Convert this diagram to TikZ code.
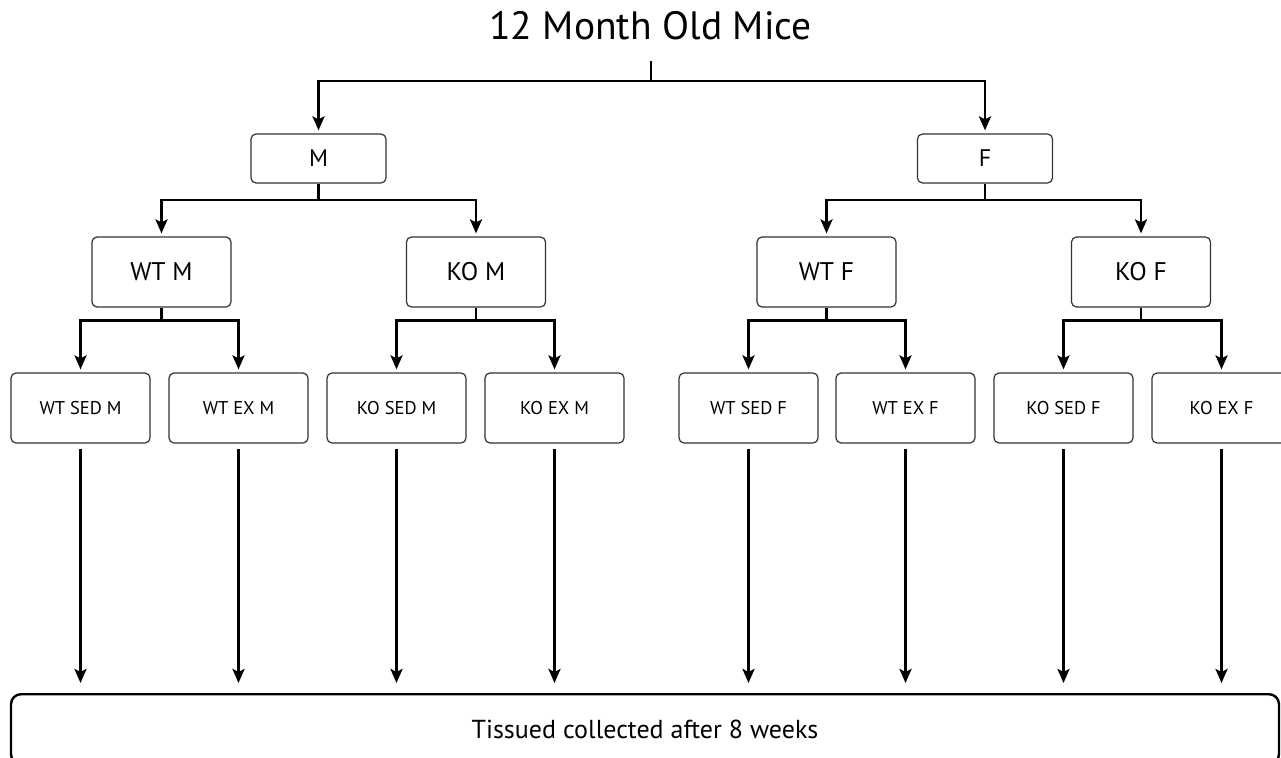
\documentclass[tikz,border=0pt]{standalone}
\usepackage{fontspec}
\setmainfont{PT Sans}
\usetikzlibrary{arrows.meta}
\begin{document}
\begin{tikzpicture}[x=1pt,y=-1pt,
  box/.style={draw=black!80, line width=1.2pt, rounded corners=5pt, inner sep=0pt},
  topbox/.style={box, minimum width=135pt, minimum height=49pt, font=\fontsize{24}{24}\selectfont},
  midbox/.style={box, minimum width=139pt, minimum height=70pt, font=\fontsize{25.5}{25.5}\selectfont},
  leafbox/.style={box, minimum width=139pt, minimum height=70pt, font=\fontsize{18.5}{18.5}\selectfont},
  conn/.style={line width=2.7pt, black},
  arr/.style={conn, -{Stealth[length=14pt,width=12pt,inset=3pt]}, shorten >=3pt}]
\useasboundingbox (0,0) rectangle (1281,757);
% title
\node[anchor=base, font=\fontsize{39.5}{39.5}\selectfont] (title) at (650.5,40) {12 Month Old Mice};
% level 1
\node[topbox] (M) at (318.5,158.5) {M};
\node[topbox] (F) at (985,158.5) {F};
% level 2
\node[midbox] (WTM) at (161.5,272) {WT M};
\node[midbox] (KOM) at (476,272) {KO M};
\node[midbox] (WTF) at (826.5,272) {WT F};
\node[midbox] (KOF) at (1141,272) {KO F};
% leaves
\node[leafbox] (l1) at (80.5,408) {WT SED M};
\node[leafbox] (l2) at (238.5,408) {WT EX M};
\node[leafbox] (l3) at (396.5,408) {KO SED M};
\node[leafbox] (l4) at (554.5,408) {KO EX M};
\node[leafbox] (l5) at (748.5,408) {WT SED F};
\node[leafbox] (l6) at (905.5,408) {WT EX F};
\node[leafbox] (l7) at (1063.5,408) {KO SED F};
\node[leafbox] (l8) at (1221.5,408) {KO EX F};
% bottom box
\node[draw=black, line width=2.4pt, rounded corners=10pt, anchor=north, minimum width=1268pt, minimum height=70pt, inner sep=0pt, font=\fontsize{26}{26}\selectfont] (bot) at (645,693) {Tissued collected after 8 weeks};
% connectors top
\coordinate (t0) at (651,61);
\coordinate (j0) at (651,81);
\draw[conn] (t0) -- (j0);
\draw[arr] (j0) -| (M.north);
\draw[arr] (j0) -| (F.north);
% M / F
\coordinate (jM) at (318.5,200);
\coordinate (jF) at (985,200);
\draw[conn] (M.south) -- (jM);
\draw[arr] (jM) -| (WTM.north);
\draw[arr] (jM) -| (KOM.north);
\draw[conn] (F.south) -- (jF);
\draw[arr] (jF) -| (WTF.north);
\draw[arr] (jF) -| (KOF.north);
% level 2 to leaves
\foreach \p/\a/\b in {WTM/l1/l2, KOM/l3/l4, WTF/l5/l6, KOF/l7/l8}{
  \coordinate (j\p) at ([yshift=-13pt]\p.south);
  \draw[conn] (\p.south) -- (j\p);
  \draw[arr] (j\p) -| (\a.north);
  \draw[arr] (j\p) -| (\b.north);
}
% leaves to bottom
\foreach \l in {l1,l2,l3,l4,l5,l6,l7,l8}{
  \draw[arr, shorten <=5pt, shorten >=10pt] (\l.south) -- (\l.south |- bot.north);
}
\end{tikzpicture}
\end{document}
